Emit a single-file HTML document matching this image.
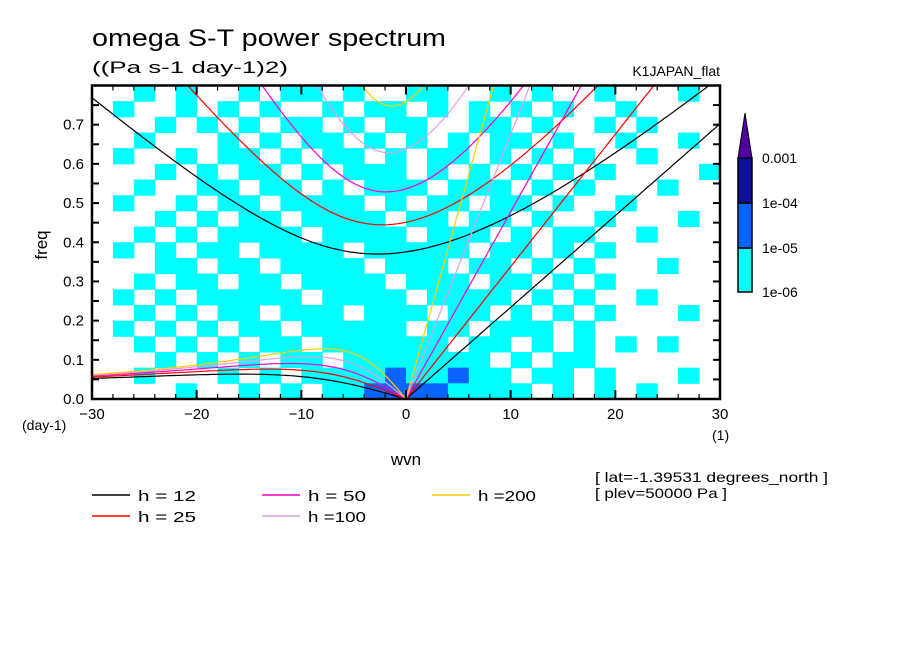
<!DOCTYPE html>
<html><head><meta charset="utf-8">
<style>
body{margin:0;background:#fff;}
svg{display:block;font-family:"Liberation Sans",sans-serif;}
</style></head>
<body>
<svg id="chart" width="904" height="654" viewBox="0 0 904 654">
<rect width="904" height="654" fill="#fff"/>
<g id="cells"></g>
<g id="curves"></g>
<g id="axes"></g>
<text x="92" y="46" font-size="24" textLength="354" lengthAdjust="spacingAndGlyphs">omega S-T power spectrum</text>
<text x="92" y="73" font-size="17" textLength="196" lengthAdjust="spacingAndGlyphs">((Pa s-1 day-1)2)</text>
<text x="720" y="76" font-size="14" text-anchor="end">K1JAPAN_flat</text>
<text x="47" y="245" font-size="17" text-anchor="middle" transform="rotate(-90 47 245)">freq</text>
<text x="406" y="465" font-size="17" text-anchor="middle">wvn</text>
<text x="22" y="430" font-size="14">(day-1)</text>
<text x="712" y="440" font-size="14">(1)</text>
<text x="595" y="482" font-size="14" textLength="233" lengthAdjust="spacingAndGlyphs">[ lat=-1.39531 degrees_north ]</text>
<text x="595" y="498" font-size="14" textLength="132" lengthAdjust="spacingAndGlyphs">[ plev=50000 Pa ]</text>
<g id="legend"></g>
<g id="cbar"></g>
</svg>
<script>
const NS="http://www.w3.org/2000/svg";
// data
const depths=[12,25,50,100,200];
const depthColors=["#000000","#ff0000","#ff00c8","#e0a0e0","#ffcc00"];
const xTicks=[-30,-20,-10,0,10,20,30];
const yTicks=[0,0.1,0.2,0.3,0.4,0.5,0.6,0.7];
const cbarLabels=["0.001","1e-04","1e-05","1e-06"];
const levelColors=["#ffffff","#00ffff","#0a64ff","#1010a0"];
// heatmap levels: rows from freq 0.80 (top) down to 0, cols wvn -30..30 step 2
const grid=[
"001010010110100110010100100010",
"010010101001011010101010010000",
"000101010110101100110100101000",
"001000101011010101011010010010",
"010010110101101011010101001000",
"000101011010111010101010100001",
"001001101101011101110101000100",
"010010110111101011011010010000",
"000101011011110110110100100010",
"001010111101111011101011001000",
"010101101111011111011010100000",
"000110110111101110110101000100",
"001011011011110111011010100000",
"010101111101111011110101001000",
"001010110111011101101010100010",
"010101011011111011011101000000",
"001010101101111110110101010100",
"000101010110111111101011000000",
"001000101011112112110110100010",
"000010010101122221111010101000"];

const X0=92,X1=720,Y0=399,YT=85.5;
const xs=v=>X0+(v+30)/60*(X1-X0);
const ys=v=>Y0-v/0.8*(Y0-YT);
function mk(tag,attrs,parent){const e=document.createElementNS(NS,tag);for(const k in attrs)e.setAttribute(k,attrs[k]);parent.appendChild(e);return e;}

// heatmap
const cg=document.getElementById('cells');
const nr=grid.length, nc=grid[0].length;
for(let r=0;r<nr;r++)for(let c=0;c<nc;c++){
  const lv=+grid[r][c]; if(!lv)continue;
  const w0=-30+c*2, f1=0.8-r*0.04;
  const el=mk('rect',{x:xs(w0),y:ys(f1),width:xs(w0+2)-xs(w0)+0.5,height:ys(f1-0.04)-ys(f1)+0.5,fill:levelColors[lv]},cg);
  
  
}

// dispersion curves
const g=9.8,beta=2.29e-11,a=6.371e6,toCpd=86400/(2*Math.PI);
function newton(k,c,w){
  for(let i=0;i<60;i++){
    const f=w*w*w-(c*c*k*k+3*beta*c)*w-beta*c*c*k;
    const d=3*w*w-(c*c*k*k+3*beta*c);
    w-=f/d;
  }
  return w;
}
const curveG=document.getElementById('curves');
const clip=mk('clipPath',{id:'pc'},curveG);mk('rect',{x:X0,y:YT,width:X1-X0,height:Y0-YT},clip);
depths.forEach((h,i)=>{
  const c=Math.sqrt(g*h);
  let ig=[],ro=[],kv=[];
  for(let s=-30;s<=30.001;s+=0.25){
    const k=s/a;
    const w=newton(k,c,Math.sqrt(c*c*k*k+3*beta*c)*1.2);
    ig.push([xs(s),ys(w*toCpd)]);
    if(s<=0){const k2=k*k+3*beta/c;const wr=s===0?0:newton(k,c,-beta*k/k2);ro.push([xs(s),ys(wr*toCpd)]);}
    if(s>=0)kv.push([xs(s),ys(c*k*toCpd)]);
  }
  [[ig,'ig-n1-curve-h'],[ro,'rossby-n1-curve-h'],[kv,'kelvin-curve-h']].forEach(([pts,nm])=>{
    const p=mk('polyline',{points:pts.map(q=>q[0].toFixed(1)+','+q[1].toFixed(1)).join(' '),fill:'none',stroke:depthColors[i],'stroke-width':1.2,'clip-path':'url(#pc)'},curveG);
    
    
  });
});

// axes
const ax=document.getElementById('axes');
mk('rect',{x:X0,y:YT,width:X1-X0,height:Y0-YT,fill:'none',stroke:'#000','stroke-width':2.5},ax);
for(let s=-30;s<=30;s+=2){
  const maj=s%10===0, L=maj?9:5;
  mk('line',{x1:xs(s),x2:xs(s),y1:Y0,y2:Y0-L,stroke:'#000','stroke-width':maj?2:1.2},ax);
  mk('line',{x1:xs(s),x2:xs(s),y1:YT,y2:YT+L,stroke:'#000','stroke-width':maj?2:1.2},ax);
}
for(let f=0;f<=0.8001;f+=0.05){
  mk('line',{x1:X0,x2:X0+7,y1:ys(f),y2:ys(f),stroke:'#000','stroke-width':2},ax);
  mk('line',{x1:X1,x2:X1-7,y1:ys(f),y2:ys(f),stroke:'#000','stroke-width':2},ax);
}
xTicks.forEach(v=>{const t=mk('text',{x:xs(v),y:Y0+20,'font-size':15,'text-anchor':'middle'},ax);t.textContent=(v<0?'\u2212':'')+Math.abs(v);
  
  });
yTicks.forEach(v=>{const t=mk('text',{x:84,y:ys(v)+5,'font-size':15,'text-anchor':'end'},ax);t.textContent=v.toFixed(1);
  
  });

// legend
const lg=document.getElementById('legend');
depths.forEach((h,i)=>{
  const col=Math.floor(i/2),row=i%2;
  const x=92+col*170,y=495+row*21;
  const e=mk('g',{},lg);
  
  
  mk('line',{x1:x,x2:x+38,y1:y,y2:y,stroke:depthColors[i],'stroke-width':1.5},e);
  const t=mk('text',{x:x+46,y:y+6,'font-size':15,textLength:58,lengthAdjust:'spacingAndGlyphs'},e);
  t.textContent=h<100?'h = '+h:'h ='+h;
});

// colorbar
const cb=document.getElementById('cbar');
const segY=[292,248,203,158];
for(let i=0;i<3;i++){mk('rect',{x:738,y:segY[i+1],width:14,height:segY[i]-segY[i+1],fill:levelColors[i+1],stroke:'#000','stroke-width':1.5},cb);}
mk('polygon',{points:'738,158 752,158 745,113',fill:'#5000a0',stroke:'#000','stroke-width':1},cb);
cbarLabels.forEach((l,i)=>{const t=mk('text',{x:762,y:segY[3-i]+5,'font-size':14},cb);t.textContent=l;
  
  });
</script>
</body></html>
